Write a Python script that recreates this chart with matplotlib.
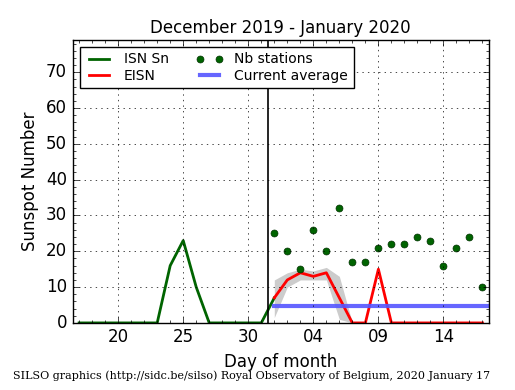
import matplotlib
matplotlib.use('Agg')
import matplotlib.pyplot as plt
import numpy as np
from matplotlib.ticker import MultipleLocator, FixedLocator

plt.style.use('classic')

# days counted from 1 Dec 2019 (Jan 1 = 32)
isn_days = np.arange(17, 33)
isn_vals = [0, 0, 0, 0, 0, 0, 0, 16, 23, 10, 0, 0, 0, 0, 0, 7]

eisn_days = np.arange(32, 49)
eisn_vals = [7, 12, 14, 13, 14, 7, 0, 0, 15, 0, 0, 0, 0, 0, 0, 0, 0]
eisn_hi = [12, 14, 15, 14.5, 15.5, 13, 0, 0, 0, 0, 0, 0, 0, 0, 0, 0, 0]
eisn_lo = [1.5, 10, 12, 12, 12, 1, 0, 0, 0, 0, 0, 0, 0, 0, 0, 0, 0]
nb_stations = [25, 20, 15, 26, 20, 32, 17, 17, 21, 22, 22, 24, 23, 16, 21, 24, 10]

current_avg = 4.7
month_change = 31.5

tick_pos = [20, 25, 30, 35, 40, 45]
tick_labels = ['20', '25', '30', '04', '09', '14']

fig = plt.figure(figsize=(5.15, 3.9), dpi=100, facecolor='white')
ax = fig.add_axes([0.141, 0.172, 0.8085, 0.7255])

ax.fill_between(eisn_days, eisn_lo, eisn_hi, color='#cccccc', linewidth=0)
ax.plot(isn_days, isn_vals, color='#006400', lw=2, label='ISN Sn')
ax.plot(eisn_days, eisn_vals, color='r', lw=2, label='EISN')
ax.plot(eisn_days, nb_stations, 'o', color='#006400', mec='#003000',
        ms=5, label='Nb stations')
ax.plot([eisn_days[0], 49], [current_avg, current_avg], color='#5555ff',
        alpha=0.9, lw=3, label='Current average')
ax.axvline(month_change, color='k', lw=1.2)

ax.set_xlim(16.5, 48.5)
ax.set_ylim(0, 79)
ax.xaxis.set_major_locator(FixedLocator(tick_pos))
ax.set_xticklabels(tick_labels)
ax.xaxis.set_minor_locator(MultipleLocator(1))
ax.yaxis.set_major_locator(MultipleLocator(10))
ax.yaxis.set_minor_locator(MultipleLocator(2))
ax.tick_params(labelsize=12)
ax.grid(True, which='major', linestyle=':', color='k')

ax.set_title('December 2019 - January 2020', fontsize=12)
ax.set_xlabel('Day of month', fontsize=12)
ax.set_ylabel('Sunspot Number', fontsize=12)

ax.legend(loc='upper left', ncol=2, fontsize=10, numpoints=2,
          fancybox=False, borderaxespad=0.5, columnspacing=1.9,
          labelspacing=0.15)

fig.text(0.025, 0.036, 'SILSO graphics (http://sidc.be/silso) Royal Observatory of Belgium, 2020 January 17',
         family='DejaVu Serif', fontsize=8, va='center')

fig.savefig('out.png', dpi=100, facecolor='white')
